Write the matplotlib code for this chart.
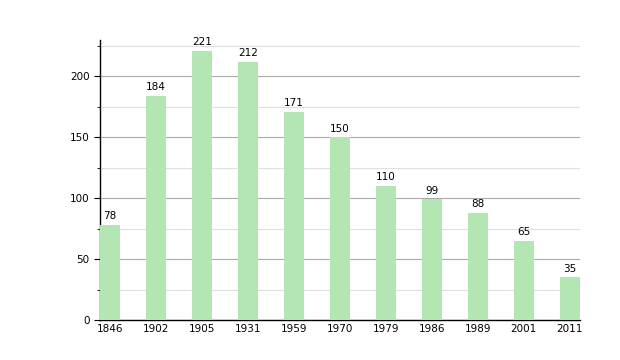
import matplotlib.pyplot as plt
from matplotlib.ticker import MultipleLocator

years = ["1846", "1902", "1905", "1931", "1959", "1970", "1979", "1986", "1989", "2001", "2011"]
population = [78, 184, 221, 212, 171, 150, 110, 99, 88, 65, 35]

fig = plt.figure(figsize=(6.2, 3.6), dpi=100)
ax = fig.add_axes([0.161, 0.111, 0.774, 0.778])

x = list(range(len(years)))
ax.bar(x, population, width=0.435, color="#b3e6b3", zorder=3)

for xi, v in zip(x, population):
    ax.text(xi, v + 3, str(v), ha="center", va="bottom", fontsize=7.5)

ax.set_xlim(-0.217, 10.217)
ax.set_ylim(0, 230)
ax.set_xticks(x)
ax.set_xticklabels(years)
ax.yaxis.set_major_locator(MultipleLocator(50))
ax.yaxis.set_minor_locator(MultipleLocator(25))
ax.grid(axis="y", which="major", color="#aaaaaa", linewidth=0.8, zorder=0)
ax.grid(axis="y", which="minor", color="#e0e0e0", linewidth=0.8, zorder=0)

for s in ["top", "right"]:
    ax.spines[s].set_visible(False)
ax.spines["left"].set_linewidth(1)
ax.spines["bottom"].set_linewidth(1)
ax.tick_params(axis="x", length=0, labelsize=7.5, pad=3)
ax.tick_params(axis="y", which="major", length=4, labelsize=7.5)
ax.tick_params(axis="y", which="minor", length=2)

fig.savefig("out.png")
